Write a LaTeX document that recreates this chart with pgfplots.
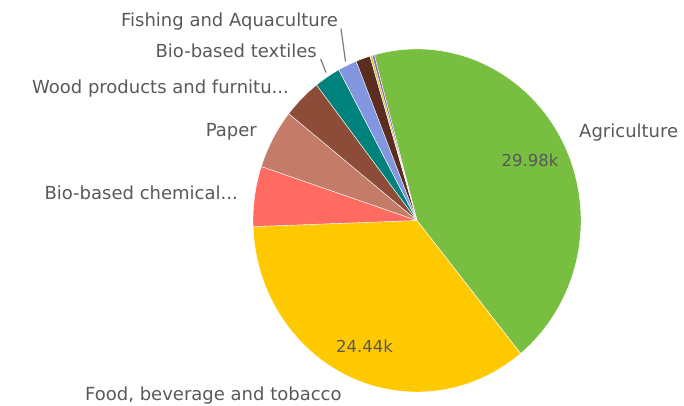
\documentclass[border=0pt]{standalone}
\usepackage{pgfplots}
\pgfplotsset{compat=1.18}
\usepackage{pgfplotstable}
\usepackage{fontspec}
\setmainfont{DejaVu Sans}

\definecolor{sl0}{HTML}{77BE41}
\definecolor{sl1}{HTML}{FFC900}
\definecolor{sl2}{HTML}{FF6A61}
\definecolor{sl3}{HTML}{C47B67}
\definecolor{sl4}{HTML}{8D4C38}
\definecolor{sl5}{HTML}{00827C}
\definecolor{sl6}{HTML}{8397E0}
\definecolor{sl7}{HTML}{5B2C20}
\definecolor{sl8}{HTML}{B8D436}
\definecolor{sl9}{HTML}{9C5BA6}
\definecolor{txt}{HTML}{595959}

\pgfplotstableread[col sep=semicolon]{
name;value
Agriculture;29.98
Food beverage and tobacco;24.44
Bio-based chemicals;3.92
Paper;3.88
Wood products and furniture;2.63
Bio-based textiles;1.79
Fishing and Aquaculture;1.29
Other A;0.98
Other B;0.15
Other C;0.15
}\piedata

\begin{document}
\begin{tikzpicture}
\path[use as bounding box] (0,0) rectangle (684pt,406pt);
\begin{axis}[
  at={(0,0)}, anchor=south west,
  scale only axis, width=684pt, height=406pt,
  xmin=0, xmax=684, ymin=0, ymax=406, y dir=reverse,
  hide axis, clip=false,
]
% total
\def\total{0}
\pgfplotsforeachungrouped \i in {0,...,9}{%
  \pgfplotstablegetelem{\i}{value}\of\piedata
  \pgfmathsetmacro{\newtotal}{\total+\pgfplotsretval}%
  \global\let\total\newtotal
}
\def\startang{105.1}
\pgfplotsforeachungrouped \i in {0,...,9}{%
  \pgfplotstablegetelem{\i}{value}\of\piedata
  \pgfmathsetmacro{\endang}{\startang-\pgfplotsretval/\total*360}%
  \edef\tmp{\noexpand\fill[fill=sl\i, draw=white, line width=0.4pt]
    (axis cs:417,220.5) -- ++(\startang:164pt and 171.5pt)
    arc[start angle=\startang, end angle=\endang, x radius=164pt, y radius=171.5pt] -- cycle;}%
  \tmp
  \global\let\startang\endang
}
% leader lines
\draw[txt!80, line width=1.2pt] (axis cs:341,28.5) -- (axis cs:345.5,61.5);
\draw[txt!80, line width=1.2pt] (axis cs:320.7,59) -- (axis cs:326,72.5);
% labels
\begin{scope}[every node/.style={text=txt, inner sep=0pt, font=\fontsize{18}{20}\selectfont}]
\node[anchor=base east] at (axis cs:338,27) {Fishing and Aquaculture};
\node[anchor=base east] at (axis cs:317,58) {Bio-based textiles};
\node[anchor=base east] at (axis cs:289,94) {Wood products and furnitu...};
\node[anchor=base east] at (axis cs:257,137) {Paper};
\node[anchor=base east] at (axis cs:238,199) {Bio-based chemical...};
\node[anchor=base west] at (axis cs:579,138) {Agriculture};
\node[anchor=base west] at (axis cs:85,400) {Food, beverage and tobacco};
\end{scope}
\begin{scope}[every node/.style={text=txt, inner sep=0pt, font=\fontsize{16.5}{18}\selectfont}]
\node[anchor=base west] at (axis cs:501.5,166) {29.98k};
\node[anchor=base west] at (axis cs:336,352.5) {24.44k};
\end{scope}
\end{axis}
\end{tikzpicture}
\end{document}
